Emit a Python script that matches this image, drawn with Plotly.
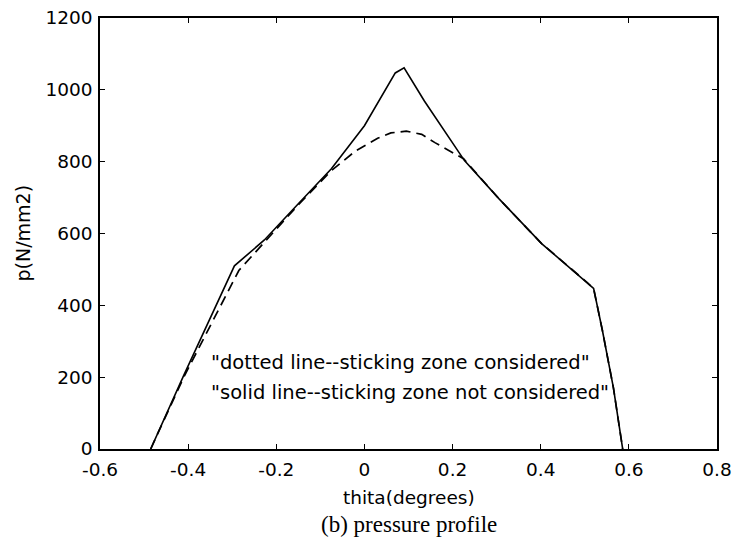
import plotly.graph_objects as go

# Solid line: sticking zone not considered
solid_x = [-0.485, -0.41, -0.295, -0.227, -0.15, -0.075, 0.0, 0.032, 0.07, 0.09,
           0.136, 0.227, 0.305, 0.402, 0.505, 0.52, 0.54, 0.565, 0.586]
solid_y = [0, 205, 510, 582, 683, 780, 900, 969, 1047, 1061,
           969, 803, 697, 572, 464, 447, 330, 170, 0]

# Dashed line: sticking zone considered
dash_x = [-0.485, -0.41, -0.285, -0.227, -0.15, -0.075, -0.02, 0.03, 0.06, 0.095,
          0.13, 0.16, 0.2, 0.225, 0.305, 0.402, 0.505, 0.52, 0.54, 0.565, 0.586]
dash_y = [0, 200, 497, 575, 680, 775, 830, 865, 880, 885,
          876, 853, 825, 808, 697, 572, 464, 447, 330, 170, 0]

x_ticks = [-0.6, -0.4, -0.2, 0, 0.2, 0.4, 0.6, 0.8]
x_tick_labels = ["-0.6", "-0.4", "-0.2", "0", "0.2", "0.4", "0.6", "0.8"]
y_ticks = [0, 200, 400, 600, 800, 1000, 1200]

notes = ['"dotted line--sticking zone considered"',
         '"solid line--sticking zone not considered"']
note_x = [-0.352, -0.352]
note_y = [242, 156]

sans = "DejaVu Sans, Arial, sans-serif"
serif = "Liberation Serif, Times New Roman, serif"

fig = go.Figure()
fig.add_trace(go.Scatter(x=dash_x, y=dash_y, mode="lines",
                         line=dict(color="black", width=1.7, dash="10px,6px"),
                         showlegend=False, hoverinfo="skip"))
fig.add_trace(go.Scatter(x=solid_x, y=solid_y, mode="lines",
                         line=dict(color="black", width=1.6),
                         showlegend=False, hoverinfo="skip"))

for t, xx, yy in zip(notes, note_x, note_y):
    fig.add_annotation(x=xx, y=yy, xref="x", yref="y", text=t, showarrow=False,
                       xanchor="left", yanchor="middle",
                       font=dict(family=sans, size=19.5, color="black"))

fig.add_annotation(x=0.5, y=-0.113, xref="paper", yref="paper", text="thita(degrees)",
                   showarrow=False, xanchor="center", yanchor="middle",
                   font=dict(family=sans, size=18.5, color="black"))
fig.add_annotation(x=0.5, y=-0.176, xref="paper", yref="paper", text="(b) pressure profile",
                   showarrow=False, xanchor="center", yanchor="middle",
                   font=dict(family=serif, size=23, color="black"))
fig.add_annotation(x=-0.125, y=0.502, xref="paper", yref="paper", text="p(N/mm2)",
                   showarrow=False, textangle=-90, xanchor="center", yanchor="middle",
                   font=dict(family=sans, size=19, color="black"))

axis_common = dict(showgrid=False, zeroline=False, showline=True, linecolor="black",
                   linewidth=1.6, mirror="ticks", ticks="inside", ticklen=5,
                   tickcolor="black", tickwidth=1, automargin=False,
                   tickfont=dict(family=sans, size=18.5, color="black"))

fig.update_xaxes(range=[-0.6, 0.8], tickvals=x_ticks, ticktext=x_tick_labels,
                 ticklabelstandoff=3, **axis_common)
fig.update_yaxes(range=[0, 1200], tickvals=y_ticks, ticklabelstandoff=2, **axis_common)

fig.update_layout(width=733, height=540, paper_bgcolor="white", plot_bgcolor="white",
                  margin=dict(l=100, r=16, t=18, b=91))

fig.write_html("out.html")
